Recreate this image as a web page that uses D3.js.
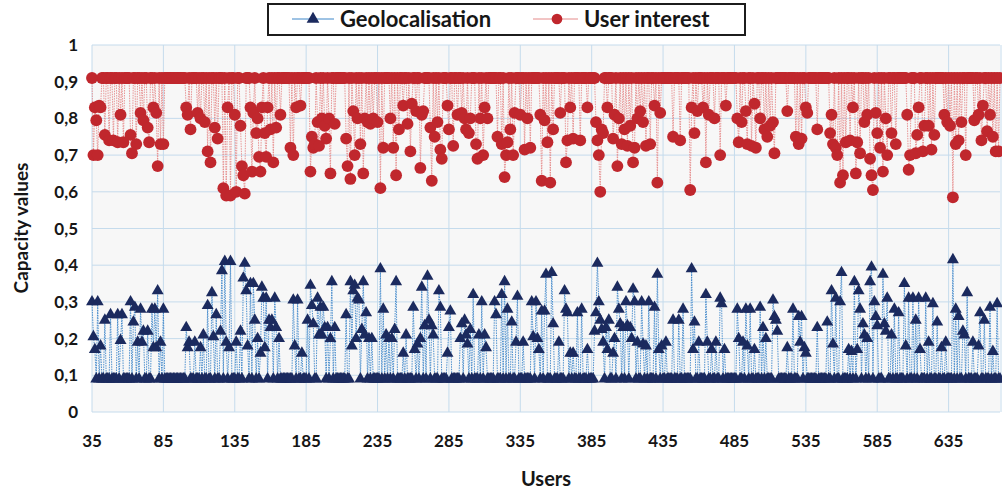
<!DOCTYPE html>
<html>
  <head>
    <script src="https://d3js.org/d3.v7.min.js"></script>
    <style>
      body {margin: 0; background: #fff;}
      svg text {font-family: Lato, "Open Sans", sans-serif; font-weight: bold; fill: #161616;}
      #grid line {stroke: #c5dbec; stroke-width: 1;}
    </style>
  </head>
  <body>
    <svg id="chart" width="1002" height="493">
      <rect id="plotbg"/>
      <g id="grid"/>
      <g id="series"/>
      <g id="axes"/>
      <g id="legend"/>
    </svg>
  </body>
  <script>
      let width = 1002, height = 493, margins = { top: 45, bottom: 81, left: 92, right: 2 };

      // users shown on the x axis
      let firstUser = 35, lastUser = 671;
      let xTicks = [35, 85, 135, 185, 235, 285, 335, 385, 435, 485, 535, 585, 635];
      let yTicks = [0, 0.1, 0.2, 0.3, 0.4, 0.5, 0.6, 0.7, 0.8, 0.9, 1];

      // most users sit on a flat level, the listed ones jump away from it
      let geoBase = 0.09;
      let geoSpikes = [
        [35,0.30],[36,0.205],[37,0.17],[39,0.30],[41,0.18],[44,0.25],[48,0.265],[53,0.265],[55,0.195],[56,0.265],
        [62,0.30],[64,0.245],[65,0.285],[67,0.19],[69,0.28],[70,0.19],[71,0.22],[74,0.22],[77,0.28],[78,0.175],
        [79,0.28],[80,0.175],[81,0.33],[83,0.19],[85,0.28],
        [101,0.23],[102,0.175],[103,0.19],[107,0.19],[111,0.175],[113,0.21],[116,0.29],[119,0.325],[120,0.205],[122,0.265],
        [125,0.22],[126,0.385],[128,0.41],[129,0.19],[131,0.175],[132,0.41],[136,0.19],[139,0.22],[141,0.365],[142,0.405],
        [143,0.33],[144,0.18],[146,0.35],[148,0.35],[149,0.25],[151,0.20],[153,0.16],[154,0.34],[155,0.31],[156,0.175],
        [157,0.31],[159,0.25],[160,0.23],[161,0.25],[163,0.31],[164,0.23],[166,0.20],
        [176,0.305],[177,0.18],[179,0.305],[182,0.16],[186,0.25],[188,0.345],[189,0.29],[190,0.24],[193,0.31],[194,0.21],
        [195,0.285],[196,0.21],[197,0.285],[198,0.23],[200,0.23],[202,0.20],[203,0.355],[205,0.23],[213,0.265],[216,0.355],
        [217,0.18],[218,0.33],[219,0.345],[220,0.20],[221,0.31],[222,0.305],[224,0.225],[225,0.355],[226,0.21],[227,0.27],
        [229,0.20],[231,0.20],[237,0.39],[239,0.28],[241,0.21],[243,0.20],[245,0.20],[247,0.225],[248,0.355],[253,0.16],
        [255,0.21],[260,0.285],[261,0.17],[263,0.185],[265,0.20],[266,0.34],[268,0.235],[270,0.37],[271,0.25],[273,0.235],
        [274,0.21],[278,0.33],[279,0.285],[284,0.16],[285,0.23],[286,0.275],[293,0.20],[294,0.24],[296,0.25],[297,0.21],
        [298,0.185],[300,0.225],[302,0.32],[306,0.21],[308,0.30],[310,0.21],[311,0.175],[317,0.30],[318,0.265],
        [322,0.32],[324,0.355],[326,0.28],[329,0.245],[332,0.19],[333,0.315],[337,0.19],[343,0.30],[344,0.205],[346,0.30],
        [347,0.20],[348,0.17],[350,0.275],[352,0.275],[353,0.375],[357,0.38],[358,0.24],[362,0.19],[366,0.33],[367,0.28],
        [368,0.27],[370,0.16],[372,0.16],[375,0.27],[378,0.28],[382,0.17],[387,0.22],[388,0.27],[389,0.405],[390,0.30],
        [391,0.25],[392,0.225],[393,0.19],[395,0.23],[396,0.17],[397,0.25],[400,0.16],[401,0.20],[403,0.34],[404,0.28],
        [405,0.24],[407,0.23],[409,0.30],[410,0.235],[412,0.23],[413,0.20],[414,0.335],[415,0.30],[417,0.19],[420,0.30],
        [421,0.185],[423,0.18],[425,0.30],[429,0.285],[431,0.375],[432,0.17],[434,0.18],[437,0.19],[442,0.25],[446,0.25],
        [449,0.28],[455,0.39],[456,0.17],[457,0.245],[460,0.19],[465,0.32],[466,0.19],[469,0.17],[472,0.19],[475,0.31],
        [476,0.295],[478,0.17],[487,0.28],[488,0.20],[491,0.19],[493,0.28],[494,0.18],[496,0.28],[499,0.17],[503,0.285],
        [505,0.23],[507,0.20],[512,0.305],[513,0.26],[514,0.25],[515,0.22],[522,0.175],[526,0.28],[530,0.26],[531,0.19],
        [532,0.26],[534,0.175],[535,0.16],[543,0.23],[550,0.245],[553,0.33],[554,0.185],[556,0.31],[559,0.30],[560,0.38],
        [565,0.17],[567,0.165],[569,0.355],[571,0.17],[572,0.33],[573,0.28],[575,0.24],[576,0.21],[578,0.20],[580,0.355],
        [581,0.395],[583,0.30],[584,0.26],[585,0.235],[589,0.375],[590,0.24],[591,0.22],[592,0.31],[595,0.21],[597,0.28],
        [600,0.27],[604,0.35],[605,0.18],[607,0.31],[610,0.31],[612,0.25],[614,0.31],[615,0.17],[619,0.31],[621,0.19],
        [624,0.295],[627,0.245],[630,0.175],[633,0.19],[638,0.415],[640,0.28],[642,0.26],[645,0.22],[646,0.21],[648,0.325],
        [652,0.19],[656,0.18],[657,0.27],[660,0.25],[664,0.285],[666,0.165],[669,0.295]
      ];

      let interestBase = 0.91;
      let interestSpikes = [
        [36,0.70],[37,0.83],[38,0.795],[39,0.70],[40,0.835],[41,0.83],[44,0.755],[47,0.74],[50,0.74],[53,0.735],
        [55,0.81],[57,0.735],[62,0.755],[63,0.705],[66,0.73],[69,0.815],[71,0.795],[74,0.775],[75,0.735],[78,0.83],
        [80,0.815],[81,0.67],[83,0.73],[85,0.73],
        [101,0.83],[102,0.81],[104,0.77],[109,0.815],[111,0.80],[114,0.79],[116,0.71],[118,0.68],[121,0.775],[123,0.745],
        [127,0.61],[129,0.59],[130,0.83],[132,0.59],[135,0.81],[136,0.60],[139,0.78],[140,0.67],[141,0.645],[142,0.595],
        [146,0.83],[147,0.655],[148,0.815],[150,0.76],[151,0.80],[152,0.695],[153,0.655],[154,0.83],[156,0.76],[157,0.695],
        [158,0.83],[160,0.77],[162,0.68],[164,0.775],[167,0.81],[174,0.72],[176,0.70],[178,0.83],[181,0.835],[188,0.655],
        [189,0.75],[190,0.72],[191,0.73],[193,0.79],[194,0.725],[196,0.80],[198,0.78],[199,0.745],[201,0.80],[202,0.65],
        [205,0.785],[213,0.745],[214,0.67],[216,0.635],[218,0.82],[219,0.70],[221,0.80],[223,0.73],[225,0.65],[226,0.80],
        [228,0.79],[230,0.785],[232,0.80],[235,0.79],[237,0.61],[239,0.72],
        [244,0.80],[246,0.72],[248,0.645],[250,0.77],[253,0.835],[256,0.785],[258,0.71],[259,0.84],[262,0.82],[265,0.665],
        [266,0.81],[267,0.82],[272,0.775],[273,0.63],[275,0.75],[277,0.79],[279,0.715],[280,0.69],[284,0.835],[285,0.77],
        [288,0.725],[291,0.81],[294,0.815],[296,0.80],[297,0.77],[299,0.76],[300,0.80],[304,0.73],[305,0.69],[307,0.80],
        [309,0.70],[310,0.83],[312,0.80],[319,0.75],[322,0.73],[324,0.64],[325,0.70],[326,0.735],[328,0.77],[330,0.70],
        [331,0.815],[335,0.81],[338,0.715],[340,0.80],[342,0.72],
        [349,0.81],[350,0.63],[352,0.795],[354,0.735],[356,0.625],[358,0.77],[363,0.815],[367,0.68],[368,0.74],[370,0.83],
        [372,0.745],[377,0.74],[382,0.83],[388,0.79],[389,0.74],[390,0.70],[391,0.60],[392,0.77],[393,0.76],[396,0.83],
        [400,0.745],[401,0.81],[403,0.67],[404,0.80],[406,0.73],[408,0.77],[410,0.725],[412,0.78],[414,0.68],[415,0.72],
        [417,0.80],[419,0.82],[421,0.79],[423,0.725],[426,0.73],[429,0.835],[431,0.625],[433,0.815],[442,0.75],[447,0.74],
        [454,0.605],[455,0.83],[457,0.76],[459,0.82],[463,0.83],[465,0.68],[467,0.81],[471,0.80],[475,0.70],[479,0.835],
        [487,0.80],[488,0.735],[490,0.79],[493,0.82],[494,0.73],[497,0.725],[499,0.84],[500,0.72],[503,0.80],[506,0.77],
        [508,0.75],[510,0.78],[512,0.79],[513,0.705],[522,0.82],[528,0.75],[530,0.73],[532,0.745],[535,0.83],[536,0.815],
        [543,0.77],[552,0.76],[553,0.81],[554,0.73],[556,0.72],[557,0.70],[559,0.625],
        [561,0.645],[563,0.735],[566,0.74],[568,0.83],[570,0.65],[571,0.735],[573,0.705],[576,0.79],[578,0.81],[580,0.69],
        [581,0.645],[582,0.605],[584,0.815],[585,0.76],[587,0.72],[589,0.655],[591,0.80],[592,0.70],[595,0.76],[598,0.73],
        [606,0.81],[607,0.66],[608,0.70],[612,0.705],[613,0.755],[614,0.83],[617,0.71],[618,0.78],[621,0.78],[623,0.715],
        [625,0.755],[632,0.81],[634,0.79],[636,0.78],[638,0.585],[640,0.73],[642,0.74],[644,0.79],[647,0.70],[653,0.795],
        [656,0.81],[658,0.74],[659,0.835],[662,0.765],[664,0.81],[666,0.75],[668,0.71],[670,0.71]
      ];

      function build_series(base, spikes) {
          let lookup = new Map(spikes);
          return d3.range(firstUser, lastUser + 1).map(u => ({
              user: u,
              value: lookup.has(u) ? lookup.get(u) : base
          }));
      }

      let x = d3.scaleLinear().domain([firstUser, lastUser])
          .range([margins.left, width - margins.right]);
      let y = d3.scaleLinear().domain([0, 1])
          .range([height - margins.bottom, margins.top]);

      let fmt = d => d3.format("")(d).replace(".", ",");

      d3.select("#plotbg")
          .attr("x", x.range()[0]).attr("y", y.range()[1])
          .attr("width", x.range()[1] - x.range()[0]).attr("height", y.range()[0] - y.range()[1])
          .attr("fill", "#f7f7f7");

      // grid
      let grid = d3.select("#grid");
      grid.selectAll("line.h").data(yTicks).enter().append("line").attr("class", "h")
          .attr("x1", x.range()[0]).attr("x2", x.range()[1])
          .attr("y1", d => y(d)).attr("y2", d => y(d));
      grid.selectAll("line.v").data(xTicks.concat([685])).enter().append("line").attr("class", "v")
          .attr("x1", d => Math.min(x(d), width - 1)).attr("x2", d => Math.min(x(d), width - 1))
          .attr("y1", y(0)).attr("y2", y(1));

      function draw_series(data, lineColor, dash, markerColor, symbol, size) {
          let line = d3.line().x(d => x(d.user)).y(d => y(d.value));
          let g = d3.select("#series").append("g");
          g.append("path").datum(data).attr("d", line)
              .attr("fill", "none").attr("stroke", lineColor)
              .attr("stroke-width", 0.9).attr("stroke-dasharray", dash);
          let sym = d3.symbol().type(symbol).size(size);
          g.selectAll("path.m").data(data).enter().append("path").attr("class", "m")
              .attr("d", sym)
              .attr("transform", d => `translate(${x(d.user)},${y(d.value)})`)
              .attr("fill", markerColor);
      }

      draw_series(build_series(geoBase, geoSpikes), "#3d86c9", "1.5,1", "#1b2a5e", d3.symbolTriangle, 62);
      draw_series(build_series(interestBase, interestSpikes), "#e58a8a", "1.5,1", "#c0272d", d3.symbolCircle, 110);

      // axes labels
      let axes = d3.select("#axes");
      axes.selectAll("text.yt").data(yTicks).enter().append("text").attr("class", "yt")
          .attr("x", 78).attr("y", d => y(d) + 6)
          .attr("text-anchor", "end").attr("font-size", 17)
          .text(fmt);
      axes.selectAll("text.xt").data(xTicks).enter().append("text").attr("class", "xt")
          .attr("x", d => x(d)).attr("y", 447)
          .attr("text-anchor", "middle").attr("font-size", 17)
          .text(d => d);
      axes.append("text").attr("x", 546).attr("y", 486)
          .attr("text-anchor", "middle").attr("font-size", 20).text("Users");
      axes.append("text").attr("transform", "translate(28,228) rotate(-90)")
          .attr("text-anchor", "middle").attr("font-size", 19).text("Capacity values");

      // legend
      let legend = d3.select("#legend");
      legend.append("rect").attr("x", 268).attr("y", 4).attr("width", 477).attr("height", 31)
          .attr("fill", "#fff").attr("stroke", "#1c1c1c").attr("stroke-width", 2);
      legend.append("line").attr("x1", 292).attr("x2", 334).attr("y1", 19).attr("y2", 19)
          .attr("stroke", "#3d86c9").attr("stroke-width", 1);
      legend.append("path").attr("d", d3.symbol().type(d3.symbolTriangle).size(70))
          .attr("transform", "translate(313,19)").attr("fill", "#1b2a5e");
      legend.append("text").attr("x", 340).attr("y", 27).attr("font-size", 22).text("Geolocalisation");
      legend.append("line").attr("x1", 533).attr("x2", 578).attr("y1", 19).attr("y2", 19)
          .attr("stroke", "#e58a8a").attr("stroke-width", 1);
      legend.append("path").attr("d", d3.symbol().type(d3.symbolCircle).size(90))
          .attr("transform", "translate(557,19)").attr("fill", "#c0272d");
      legend.append("text").attr("x", 584).attr("y", 27).attr("font-size", 22).text("User interest");
  </script>
</html>
